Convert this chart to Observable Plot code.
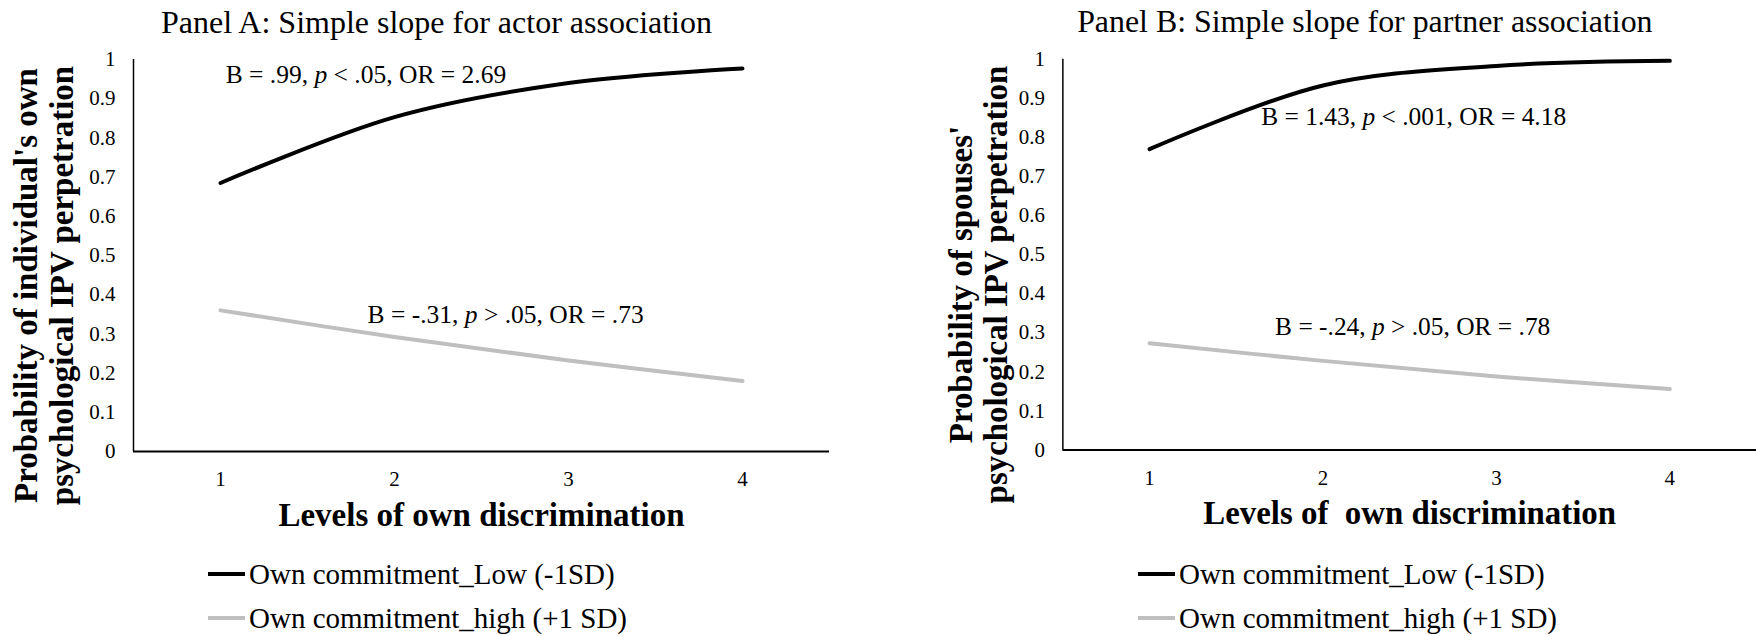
<!DOCTYPE html>
<html>
<head>
<meta charset="utf-8">
<script src="https://cdn.jsdelivr.net/npm/d3@7"></script>
<script src="https://cdn.jsdelivr.net/npm/@observablehq/plot@0.6"></script>
<style>
  html, body { margin: 0; padding: 0; background: #fff; }
  #figure {
    position: relative; width: 1756px; height: 636px; overflow: hidden;
    font-family: "Liberation Serif", "Times New Roman", serif; color: #000;
  }
  .panel { position: absolute; top: 0; }
  .legend { position: absolute; top: 552px; font-size: 29px; }
  .legend-row { display: flex; align-items: center; height: 44px; white-space: pre; }
  .legend-row svg { margin-right: 4px; display: block; }
</style>
</head>
<body>
<div id="figure"></div>
<script>
// Levels of own discrimination (x) and predicted probabilities of perpetration (y)
const levels = [1, 2, 3, 4];
const seriesNames = ["Own commitment_Low (-1SD)", "Own commitment_high (+1 SD)"];
const seriesColors = ["#000000", "#bfbfbf"];

// Panel A: actor association
const actorLow  = [0.685, 0.853, 0.940, 0.977];
const actorHigh = [0.360, 0.292, 0.232, 0.180];
// Panel B: partner association
const partnerLow  = [0.770, 0.933, 0.983, 0.996];
const partnerHigh = [0.273, 0.228, 0.188, 0.156];

const yTicks = [0, 0.1, 0.2, 0.3, 0.4, 0.5, 0.6, 0.7, 0.8, 0.9, 1];

const panelTitles = [
  "Panel A: Simple slope for actor association",
  "Panel B: Simple slope for partner association"
];
const yTitles = [
  "Probability of individual's own\npsychological IPV perpetration",
  "Probability of spouses'\npsychological IPV perpetration"
];
const xTitles = ["Levels of own discrimination", "Levels of  own discrimination"];
const actorNotes = ["B = .99, p < .05, OR = 2.69", "B = -.31, p > .05, OR = .73"];
const partnerNotes = ["B = 1.43, p < .001, OR = 4.18", "B = -.24, p > .05, OR = .78"];

function toRows(low, high) {
  return [low, high].flatMap((vals, s) =>
    levels.map((level, i) => ({series: seriesNames[s], level, p: vals[i]})));
}

const serif = "'Liberation Serif', 'Times New Roman', serif";

function drawPanel(cfg) {
  const rows = toRows(cfg.low, cfg.high);
  const notes = cfg.notes.map((text, i) => ({text, ...cfg.notePos[i]}));
  const svg = Plot.plot({
    width: cfg.width,
    height: 545,
    marginLeft: cfg.marginLeft,
    marginRight: cfg.marginRight,
    marginTop: 59,
    marginBottom: 94,
    style: {fontFamily: serif, fontSize: "21px", color: "#000", background: "transparent", overflow: "visible"},
    x: {domain: [0.5, 4.5], axis: null},
    y: {domain: [0, 1], axis: null},
    color: {domain: seriesNames, range: seriesColors},
    marks: [
      Plot.axisX({ticks: levels, tickSize: 0, tickPadding: 20, tickFormat: String, label: null}),
      Plot.axisY({ticks: yTicks, tickSize: 0, tickPadding: 18, tickFormat: String, label: null}),
      Plot.ruleX([0.5], {y1: 0, y2: 1, stroke: "#000", strokeWidth: 1.5}),
      Plot.ruleY([0], {x1: 0.5, x2: 4.5, stroke: "#000", strokeWidth: 2}),
      Plot.line(rows, {
        x: "level", y: "p", z: "series", stroke: "series",
        strokeWidth: 4, curve: "catmull-rom", strokeLinecap: "round"
      }),
      Plot.text(notes, {
        x: "x", y: "y", text: "text", textAnchor: "start", lineAnchor: "middle", fontSize: 25.5
      }),
      Plot.text([cfg.title], {
        text: d => d, frameAnchor: "top", dx: -45, dy: -27, lineAnchor: "bottom", fontSize: 32
      }),
      Plot.text([cfg.yTitle], {
        text: d => d, frameAnchor: "left", textAnchor: "middle", rotate: -90, dx: cfg.yTitleDx, dy: 30,
        lineAnchor: "bottom", lineHeight: 1.08, fontSize: 33, fontWeight: "bold"
      }),
      Plot.text([cfg.xTitle], {
        text: d => d, frameAnchor: "bottom", dy: 74, lineAnchor: "bottom", fontSize: 33, fontWeight: "bold"
      })
    ]
  });

  // italic p in the slope notes; keep doubled spaces in titles
  svg.querySelectorAll("text").forEach(t => {
    const s = t.textContent;
    const m = /^(.*, )p( [<>].*)$/.exec(s);
    if (m && t.children.length === 0) {
      t.textContent = "";
      const a = document.createElementNS("http://www.w3.org/2000/svg", "tspan");
      a.textContent = m[1];
      const p = document.createElementNS("http://www.w3.org/2000/svg", "tspan");
      p.textContent = "p";
      p.setAttribute("font-style", "italic");
      const b = document.createElementNS("http://www.w3.org/2000/svg", "tspan");
      b.textContent = m[2];
      t.append(a, p, b);
    }
    if (s.includes("  ")) t.style.whiteSpace = "pre";
  });

  const panel = document.createElement("div");
  panel.className = "panel";
  panel.style.left = cfg.left + "px";
  panel.appendChild(svg);

  const legend = document.createElement("div");
  legend.className = "legend";
  legend.style.left = cfg.legendLeft + "px";
  seriesNames.forEach((name, i) => {
    const row = document.createElement("div");
    row.className = "legend-row";
    row.innerHTML = `<svg width="37" height="8"><line x1="0" x2="37" y1="4" y2="4" stroke="${seriesColors[i]}" stroke-width="4"/></svg><span>${name}</span>`;
    legend.appendChild(row);
  });
  panel.appendChild(legend);
  return panel;
}

const fig = document.getElementById("figure");
fig.appendChild(drawPanel({
  left: 0, width: 878, marginLeft: 133, marginRight: 49, yTitleDx: -61, legendLeft: 208,
  low: actorLow, high: actorHigh, title: panelTitles[0], yTitle: yTitles[0], xTitle: xTitles[0],
  notes: actorNotes, notePos: [{x: 1.03, y: 0.96}, {x: 1.845, y: 0.348}]
}));
fig.appendChild(drawPanel({
  left: 878, width: 881, marginLeft: 185, marginRight: 0, yTitleDx: -56, legendLeft: 260,
  low: partnerLow, high: partnerHigh, title: panelTitles[1], yTitle: yTitles[1], xTitle: xTitles[1],
  notes: partnerNotes, notePos: [{x: 1.644, y: 0.852}, {x: 1.724, y: 0.315}]
}));
</script>
</body>
</html>
